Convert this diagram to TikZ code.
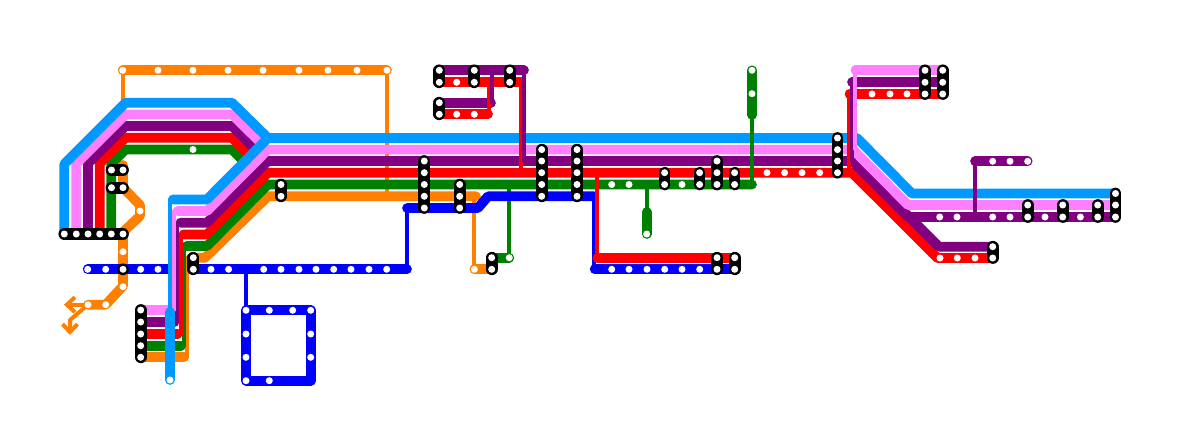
\documentclass[tikz,border=0pt]{standalone}
\usetikzlibrary{arrows.meta}

\definecolor{skyline}{HTML}{0099FF}
\definecolor{pinkline}{HTML}{FF80FF}
\definecolor{purpleline}{HTML}{800080}
\definecolor{redline}{HTML}{FF0000}
\definecolor{greenline}{HTML}{008000}
\definecolor{orangeline}{HTML}{FF8000}
\definecolor{blueline}{HTML}{0000FF}

\tikzset{
  rail/.style={line width=4.85pt, line cap=round, line join=round},
  spur/.style={line width=2pt, line cap=round, line join=round},
  hub/.style={line width=5.85pt, line cap=round, black},
  stop/.style={circle, fill=white, inner sep=0pt, minimum size=3.5pt},
  fork/.style={spur, orangeline, -{Straight Barb[length=4pt, width=7.5pt]}}
}

% stops along a row: name, y, list of x
\newcommand{\stoprow}[3]{\foreach \x [count=\n] in {#3} \node[stop] (#1\n) at (\x,#2) {};}
% stops down a column: name, x, list of y
\newcommand{\stopcol}[3]{\foreach \y [count=\n] in {#3} \node[stop] (#1\n) at (#2,\y) {};}
% black interchange: name, x, first y, last y, all y
\newcommand{\hubcol}[5]{\draw[hub] (#2,#3) -- (#2,#4); \stopcol{#1}{#2}{#5}}

\begin{document}
\begin{tikzpicture}[x=0.5pt, y=-0.5pt]
    \useasboundingbox (0,0) rectangle (1200,439);

    % --- ORANGE BEHIND EVERYTHING ---
    \draw[rail, orangeline] (122.7,70.3) -- (387,70.3);
    \draw[spur, orangeline] (122.7,70.3) -- (122.7,110);
    \draw[spur, orangeline] (387,70.3) -- (387,196);
    \draw[rail, orangeline] (123,165) -- (123,187.7) -- (140,205) -- (140,216) -- (123,232)
        -- (123,286) -- (105.7,304.7) -- (88,304.7);
    \draw[fork] (88,304.7) -- (64,304.7);
    \draw[fork] (88,304.7) -- (70,320) -- (70,335);

    % --- UPPER LEFT LOOP ---
    \draw[rail, greenline] (111.3,234) -- (111.3,163.7) -- (125.5,149.5) -- (232,149.5) -- (244.2,161.8);
    \draw[rail, redline] (99.7,234) -- (99.7,163.6) -- (125.5,137.7) -- (232,137.7) -- (250.2,155.8);
    \draw[rail, purpleline] (88,234) -- (88,163.6) -- (125.5,126) -- (232,126) -- (256,150);
    \draw[rail, pinkline] (76.3,234) -- (76.3,163.6) -- (125.5,114.4) -- (232,114.4) -- (262,144);
    \draw[rail, skyline] (64.3,234) -- (64.3,164) -- (125.5,102.7) -- (232,102.7) -- (268,138);

    % --- BLUE LINES ---
    \draw[rail, blueline] (87.7,269.3) -- (407,269.3);
    \draw[spur, blueline] (246,269.3) -- (246,310.3);
    \draw[rail, blueline] (246,310.3) -- (310.7,310.3) -- (310.7,380.7) -- (246,380.7) -- cycle;
    \draw[spur, blueline] (406.7,208) -- (406.7,269.3);
    \draw[spur, blueline] (594,196.3) -- (594,269.3);
    \draw[rail, blueline] (594.7,269.3) -- (734.7,269.3);

    % --- MAIN BUNDLE, LOWER FIRST ---
    \draw[rail, orangeline] (140.7,357.3) -- (184,357.3);
    \draw[spur, orangeline] (186.7,357.3) -- (186.7,258);
    \draw[rail, orangeline] (191,257.8) -- (205,257.8) -- (268,196.3) -- (476,196.3);
    \draw[spur, orangeline] (474.3,196.3) -- (474.3,269.3);
    \draw[rail, orangeline] (474.3,269.3) -- (491.7,269.3);

    \draw[rail, greenline] (140.7,345.7) -- (181,345.7);
    \draw[spur, greenline] (183.7,345.7) -- (183.7,246);
    \draw[rail, greenline] (186.5,246) -- (207,246) -- (268,184.5) -- (752,184.5);
    \draw[spur, greenline] (509.3,184.5) -- (509.3,257.7);
    \draw[rail, greenline] (491.7,257.7) -- (509.3,257.7);
    \draw[spur, greenline] (646.7,184.5) -- (646.7,212);
    \draw[rail, greenline] (646.7,212) -- (646.7,234);

    \draw[rail, blueline] (407,208) -- (478,208) -- (488,196.3) -- (594,196.3);

    \draw[rail, redline] (140.7,334) -- (177.7,334);
    \draw[spur, redline] (180.7,334) -- (180.7,234.4);
    \draw[rail, redline] (183.5,234.4) -- (207,234.4) -- (268,172.7) -- (852,172.7) -- (937.5,258) -- (992.7,258);
    \draw[spur, redline] (597.3,172.7) -- (597.3,257.7);
    \draw[rail, redline] (597.3,257.7) -- (734.7,257.7);

    \draw[rail, purpleline] (853,161) -- (939,246.7) -- (992.7,246.7);
    \draw[rail, purpleline] (140.7,322) -- (174.5,322);
    \draw[spur, purpleline] (177.4,322) -- (177.4,222.7);
    \draw[rail, purpleline] (180.5,222.7) -- (207,222.7) -- (268,161) -- (852,161) -- (908,217) -- (1115.5,217);

    \draw[rail, pinkline] (140.7,310) -- (170,310);
    \draw[spur, pinkline] (174,310) -- (174,211);
    \draw[rail, pinkline] (177.5,211) -- (207,211) -- (268,149.6) -- (853,149.6) -- (908,205) -- (1115.5,205);

    \draw[spur, skyline] (170,199.4) -- (170,312);
    \draw[rail, skyline] (170,312) -- (170,380);
    \draw[rail, skyline] (173,199.4) -- (207,199.4) -- (268,138) -- (857,138) -- (912,193.5) -- (1115.5,193.5);

    % --- TOP MIDDLE BRANCHES ---
    \draw[rail, redline] (439.3,82.3) -- (521,82.3);
    \draw[rail, purpleline] (439.3,70.3) -- (524,70.3);
    \draw[rail, redline] (439.3,114.3) -- (488,114.3);
    \draw[rail, purpleline] (439.3,102.7) -- (491,102.7);
    \draw[spur, redline] (488.7,82.3) -- (488.7,114.3);
    \draw[spur, purpleline] (492,70.3) -- (492,102.7);
    \draw[spur, redline] (520.7,82.3) -- (520.7,172.7);
    \draw[spur, purpleline] (523.7,70.3) -- (523.7,161);

    % --- GREEN MAST ---
    \draw[spur, greenline] (752,115) -- (752,184.5);
    \draw[rail, greenline] (752,70.3) -- (752,115);

    % --- TOP RIGHT BRANCHES ---
    \draw[rail, redline] (849.5,94) -- (942.7,94);
    \draw[spur, redline] (848.5,94) -- (848.5,172.7);
    \draw[rail, purpleline] (852,82.3) -- (942.7,82.3);
    \draw[spur, purpleline] (851.7,82.3) -- (851.7,161);
    \draw[rail, pinkline] (855.5,70.3) -- (942.7,70.3);
    \draw[spur, pinkline] (855,70.3) -- (855,149);

    % --- FAR RIGHT BRANCH ---
    \draw[spur, purpleline] (975,161.3) -- (975,217);
    \draw[rail, purpleline] (975,161.3) -- (1027.7,161.3);

    % --- BLACK INTERCHANGES ---
    \draw[hub] (64.3,234) -- (123,234);
    \stoprow{ha}{234}{64.3,76.3,88,99.7,111.3,123}
    \draw[hub] (111.5,170) -- (123,170);
    \stoprow{hb}{170}{111.5,123}
    \draw[hub] (111.5,187.7) -- (123,187.7);
    \stoprow{hc}{187.7}{111.5,123}
    \hubcol{hd}{123}{269.3}{269.3}{269.3}
    \hubcol{he}{140.7}{310}{357.3}{310,322,334,345.7,357.3}
    \hubcol{hf}{193.3}{257.7}{269.3}{257.7,269.3}
    \hubcol{hg}{281}{184.5}{196.3}{184.5,196.3}
    \hubcol{hh}{424.3}{161}{208}{161,172.7,184.5,196.3,208}
    \hubcol{hi}{459.7}{184.5}{208}{184.5,196.3,208}
    \hubcol{hj}{439.3}{70.3}{82.3}{70.3,82.3}
    \hubcol{hk}{474.3}{70.3}{82.3}{70.3,82.3}
    \hubcol{hl}{509.7}{70.3}{82.3}{70.3,82.3}
    \hubcol{hm}{439.3}{102.7}{114.3}{102.7,114.3}
    \hubcol{hn}{491.7}{257.7}{269.3}{257.7,269.3}
    \hubcol{ho}{541.7}{149.6}{196.3}{149.6,161,172.7,184.5,196.3}
    \hubcol{hp}{577}{149.6}{196.3}{149.6,161,172.7,184.5,196.3}
    \hubcol{hq}{664.6}{172.7}{184.5}{172.7,184.5}
    \hubcol{hr}{699.6}{172.7}{184.5}{172.7,184.5}
    \hubcol{hs}{717}{161}{184.5}{161,172.7,184.5}
    \hubcol{ht}{734.6}{172.7}{184.5}{172.7,184.5}
    \hubcol{hu}{717}{257.7}{269.3}{257.7,269.3}
    \hubcol{hv}{734.7}{257.7}{269.3}{257.7,269.3}
    \hubcol{hw}{837.5}{138}{172.7}{138,149.6,161,172.7}
    \hubcol{hx}{925}{70.3}{94}{70.3,82.3,94}
    \hubcol{hy}{942.7}{70.3}{94}{70.3,82.3,94}
    \hubcol{hz}{992.7}{246.7}{258}{246.7,258}
    \hubcol{ia}{1027.7}{205}{217}{205,217}
    \hubcol{ib}{1062.7}{205}{217}{205,217}
    \hubcol{ic}{1097.7}{205}{217}{205,217}
    \hubcol{id}{1115.5}{193.5}{217}{193.5,205,217}

    % --- WHITE STOPS ---
    \stoprow{oa}{70.3}{122.7,158,193,228,263,299,328,357,387}
    \stopcol{ob}{123}{251.7,286.7}
    \node[stop] (oc) at (140,211) {};
    \stoprow{od}{304.7}{88,105.7}
    \node[stop] (oe) at (474.3,269.3) {};
    \node[stop] (ga) at (193,149.5) {};
    \node[stop] (gb) at (509.3,257.7) {};
    \stoprow{gc}{184.5}{611.7,629,682}
    \stopcol{gd}{752}{70.3,93.7}
    \node[stop] (ge) at (646.7,234) {};
    \stoprow{ba}{269.3}{87.7,105.7,140.7,158,211,228.6,263.7,281,299,316,333.7,351,369,386.7}
    \stoprow{bb}{310.3}{246,269.3,292.7,310.7}
    \stopcol{bc}{246}{334,357.3,380.7}
    \stopcol{bd}{310.7}{334,357.3}
    \node[stop] (be) at (269.3,380.7) {};
    \stoprow{bf}{269.3}{611.7,629,647,664.7,682,699.7}
    \stoprow{ra}{82.3}{456.7}
    \stoprow{rb}{114.3}{456.7,474.3}
    \stoprow{rc}{172.7}{767,784.6,802,819.7}
    \stoprow{rd}{94}{872,890,907}
    \stoprow{re}{258}{940,957.3,975}
    \stoprow{pa}{161.3}{992.7,1010,1027.7}
    \stoprow{pb}{217}{939.7,957,992.7,1010,1045,1080.4}
    \node[stop] (sa) at (170,380) {};
\end{tikzpicture}
\end{document}
